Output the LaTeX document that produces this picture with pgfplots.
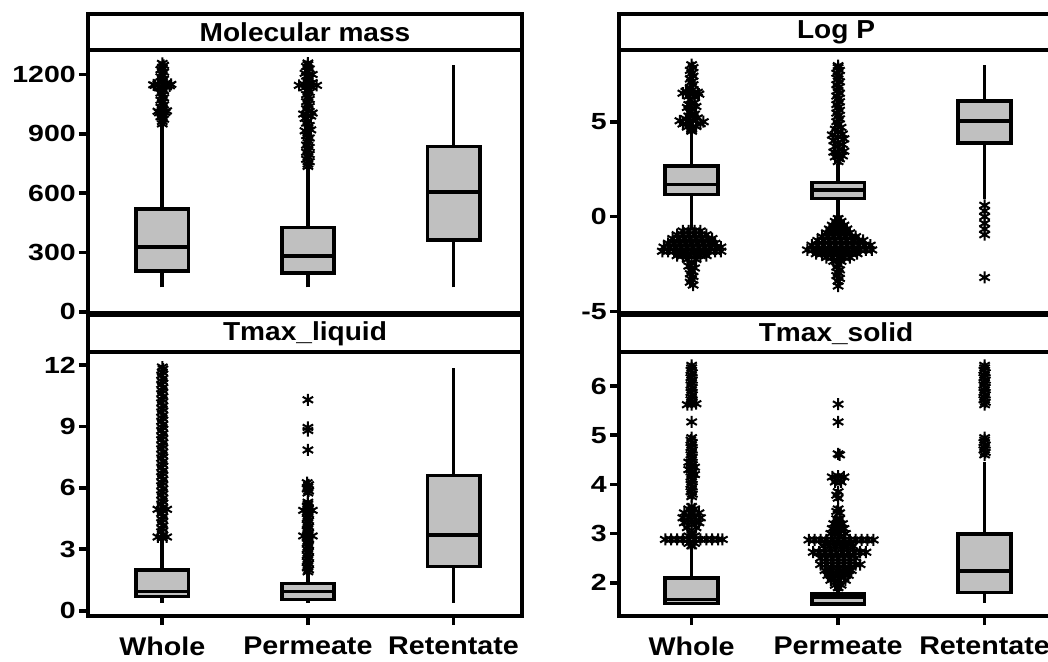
\documentclass[border=0pt]{standalone}
\usepackage{fontspec}
\setmainfont{Liberation Sans}
\newfontfamily\tickfam[FakeStretch=1.22]{Liberation Sans}
\newfontfamily\titlefam[FakeStretch=1.08]{Liberation Sans}
\newfontfamily\labfam[FakeStretch=1.12]{Liberation Sans}
\usepackage{pgfplots}
\pgfplotsset{compat=1.18}
\newlength\px
\setlength\px{0.75pt}
\definecolor{boxgray}{RGB}{192,192,192}
\pgfplotsset{
  panel/.style={
    scale only axis, width=434\px,
    axis line style={line width=3.6\px},
    every tick/.style={line width=3.6\px, black},
    major tick length=9\px,
    tick align=outside,
    ytick pos=left, xtick pos=bottom,
    /pgf/number format/assume math mode=true,
    /pgf/number format/1000 sep={},
    yticklabel style={font=\tickfam\bfseries\fontsize{17.5}{19}\selectfont, inner sep=3\px},
    xticklabel style={font=\labfam\bfseries\fontsize{19.2}{21}\selectfont, yshift=-7\px},
    clip=false,
  },
  ln/.style={black, line width=3.6\px, mark=none},
  bxf/.style={draw=black, fill=boxgray, line width=3.6\px, mark=none},
  outl/.style={only marks, mark=asterisk, mark size=6\px, black,
    mark options={line width=2\px, black}},
}
\begin{document}
\begin{tikzpicture}
\useasboundingbox (0,0) rectangle (1048\px,-661\px);
% ---------------- Molecular mass
\begin{axis}[panel, at={(88\px,-14\px)}, anchor=north west, height=299\px,
  xmin=0.49, xmax=3.47, ymin=-6.6, ymax=1506,
  ytick={0,300,600,900,1200}, xtick=\empty]
\addplot[ln] coordinates {(1,123)(1,950)};
\addplot[ln] coordinates {(2,123)(2,735)};
\addplot[ln] coordinates {(3,123)(3,1250)};
\addplot[bxf] coordinates {(0.82,207)(1.18,207)(1.18,520)(0.82,520)} -- cycle;
\addplot[bxf] coordinates {(1.82,197)(2.18,197)(2.18,425)(1.82,425)} -- cycle;
\addplot[bxf] coordinates {(2.82,363)(3.18,363)(3.18,835)(2.82,835)} -- cycle;
\addplot[ln] coordinates {(0.82,326)(1.18,326)};
\addplot[ln] coordinates {(1.82,283)(2.18,283)};
\addplot[ln] coordinates {(2.82,607)(3.18,607)};
\addplot[outl] coordinates {(1,950)(1,962)(1.01,974)(0.99,986)(1,998)(0.98,1006)(1.02,1008)(0.97,1014)(1.03,1016)(1,1022)(0.99,1034)(1.01,1046)(1,1058)(0.99,1070)(1.01,1082)(1,1094)(0.99,1106)(1.01,1118)(1,1128)(0.98,1136)(0.95,1145)(1.05,1143)(1.02,1140)(0.94,1148)(1.06,1150)(0.97,1152)(1.03,1156)(1,1164)(1.01,1176)(0.99,1188)(1,1200)(1.01,1212)(0.99,1224)(1,1236)(1.01,1246)(1,1256)};
\addplot[outl] coordinates {(2,735)(2,747)(2.01,759)(1.99,771)(2,783)(2.01,795)(1.99,807)(2,819)(2.01,831)(1.99,843)(2,855)(2,867)(2.01,879)(1.99,891)(2,903)(1.98,915)(2.02,920)(2,930)(2.01,942)(1.99,954)(2,966)(1.98,978)(2.02,990)(1.97,1000)(2.03,1005)(2,1014)(1.99,1026)(2.01,1038)(2,1050)(1.99,1062)(2.01,1074)(2,1086)(1.99,1098)(2.01,1110)(2,1122)(1.98,1134)(1.94,1145)(2.06,1145)(2.02,1140)(1.97,1152)(2.03,1158)(2,1168)(2.01,1180)(1.99,1192)(2.03,1200)(1.98,1206)(2,1216)(2.01,1228)(1.99,1240)(2,1250)(2,1258)};
\draw[line width=3.6\px] (rel axis cs:0,0.8796) -- (rel axis cs:1,0.8796);
\node[font=\titlefam\bfseries\fontsize{19.5}{21}\selectfont] at (rel axis cs:0.5,0.94) {Molecular mass};
\end{axis}
% ---------------- Tmax_liquid
\begin{axis}[panel, at={(88\px,-315\px)}, anchor=north west, height=301\px,
  xmin=0.49, xmax=3.47, ymin=-0.259, ymax=14.44,
  ytick={0,3,6,9,12}, xtick={1,2,3}, xticklabels={Whole,Permeate,Retentate}]
\addplot[ln] coordinates {(1,0.39)(1,3.5)};
\addplot[ln] coordinates {(2,0.39)(2,1.85)};
\addplot[ln] coordinates {(3,0.39)(3,11.84)};
\addplot[bxf] coordinates {(0.82,0.70)(1.18,0.70)(1.18,1.99)(0.82,1.99)} -- cycle;
\addplot[bxf] coordinates {(1.82,0.55)(2.18,0.55)(2.18,1.32)(1.82,1.32)} -- cycle;
\addplot[bxf] coordinates {(2.82,2.15)(3.18,2.15)(3.18,6.60)(2.82,6.60)} -- cycle;
\addplot[ln] coordinates {(0.82,0.93)(1.18,0.93)};
\addplot[ln] coordinates {(1.82,0.93)(2.18,0.93)};
\addplot[ln] coordinates {(2.82,3.70)(3.18,3.70)};
\addplot[outl] coordinates {(1,3.55)(1.005,3.7)(0.995,3.85)(1,4.0)(1.005,4.15)(0.995,4.3)(1,4.45)(1.005,4.6)(0.995,4.75)(1,4.9)(1.005,5.05)(0.995,5.2)(1,5.35)(1.005,5.5)(0.995,5.65)(1,5.8)(1.005,5.95)(0.995,6.1)(1,6.25)(1.005,6.4)(0.995,6.55)(1,6.7)(1.005,6.85)(0.995,7.0)(1,7.15)(1.005,7.3)(0.995,7.45)(1,7.6)(1.005,7.75)(0.995,7.9)(1,8.05)(1.005,8.2)(0.995,8.35)(1,8.5)(1.005,8.65)(0.995,8.8)(1,8.95)(1.005,9.1)(0.995,9.25)(1,9.4)(1.005,9.55)(0.995,9.7)(1,9.85)(1.005,10.0)(0.995,10.15)(1,10.3)(1.005,10.45)(0.995,10.6)(1,10.75)(1.005,10.9)(0.995,11.05)(1,11.2)(1.005,11.35)(0.995,11.5)(1,11.65)(1.005,11.8)(1,11.9)(0.97,3.6)(1.03,3.6)(0.97,4.95)(1.03,4.95)};
\addplot[outl] coordinates {(2,10.3)(2,8.95)(2,8.8)(2,7.85)(2,5.75)(2.005,5.85)(1.995,5.95)(2,6.05)(2.005,6.15)(1.995,6.25)(2,1.9)(2.005,2.0)(1.995,2.1)(2,2.2)(2.005,2.3)(1.995,2.4)(2,2.5)(2.005,2.6)(1.995,2.7)(2,2.8)(2.005,2.9)(1.995,3.0)(2,3.1)(2.005,3.2)(1.995,3.3)(2,3.4)(2.005,3.5)(1.995,3.6)(2,3.7)(2.005,3.8)(1.995,3.9)(2,4.0)(2.005,4.1)(1.995,4.2)(2,4.3)(2.005,4.4)(1.995,4.5)(2,4.6)(2.005,4.7)(1.995,4.8)(2,4.9)(2.005,5.0)(1.995,5.1)(2,5.2)(2,5.3)(1.97,4.9)(2.03,4.9)(1.97,3.65)(2.03,3.65)};
\draw[line width=3.6\px] (rel axis cs:0,0.877) -- (rel axis cs:1,0.877);
\node[font=\titlefam\bfseries\fontsize{19.5}{21}\selectfont] at (rel axis cs:0.5,0.9385) {Tmax\_liquid};
\end{axis}
% ---------------- Log P
\begin{axis}[panel, at={(619\px,-14\px)}, anchor=north west, height=299\px,
  xmin=0.504, xmax=3.467, ymin=-5.07, ymax=10.67,
  ytick={-5,0,5}, xtick=\empty]
\addplot[ln] coordinates {(1,-0.6)(1,4.42)};
\addplot[ln] coordinates {(2,-0.1)(2,2.75)};
\addplot[ln] coordinates {(3,0.91)(3,8.01)};
\addplot[bxf] coordinates {(0.82,1.17)(1.18,1.17)(1.18,2.66)(0.82,2.66)} -- cycle;
\addplot[bxf] coordinates {(1.82,0.96)(2.18,0.96)(2.18,1.79)(1.82,1.79)} -- cycle;
\addplot[bxf] coordinates {(2.82,3.89)(3.18,3.89)(3.18,6.08)(2.82,6.08)} -- cycle;
\addplot[ln] coordinates {(0.82,1.70)(1.18,1.70)};
\addplot[ln] coordinates {(1.82,1.40)(2.18,1.40)};
\addplot[ln] coordinates {(2.82,5.03)(3.18,5.03)};
\addplot[outl] coordinates {(1,8.0)(1.01,7.85)(0.99,7.7)(1,7.55)(1.01,7.4)(0.99,7.25)(1,7.1)(1.01,6.95)(0.99,6.8)(1,6.65)(0.96,6.6)(1.04,6.55)(0.94,6.5)(1.05,6.45)(1.01,6.5)(0.98,6.35)(1.02,6.3)(0.99,6.15)(1.02,6.0)(0.98,5.9)(1.03,5.8)(0.97,5.75)(1,5.65)(0.99,5.5)(1.02,5.4)(0.98,5.3)(1.04,5.2)(0.96,5.15)(0.92,5.05)(1.08,5.0)(1.01,5.05)(1.06,4.9)(0.94,4.88)(0.99,4.9)(1.03,4.75)(0.97,4.72)(1,4.6)(1,4.5)};
\addplot[outl] coordinates {(0.94,-0.75)(0.98,-0.75)(1.02,-0.75)(1.06,-0.75)(0.90,-0.95)(0.94,-0.95)(0.98,-0.95)(1.02,-0.95)(1.06,-0.95)(1.10,-0.95)(0.87,-1.15)(0.91,-1.15)(0.95,-1.15)(0.99,-1.15)(1.03,-1.15)(1.07,-1.15)(1.11,-1.15)(1.14,-1.15)(0.84,-1.4)(0.88,-1.4)(0.92,-1.4)(0.96,-1.4)(1.0,-1.4)(1.04,-1.4)(1.08,-1.4)(1.12,-1.4)(1.16,-1.4)(0.81,-1.6)(0.85,-1.6)(0.89,-1.6)(0.93,-1.6)(0.97,-1.6)(1.01,-1.6)(1.05,-1.6)(1.09,-1.6)(1.13,-1.6)(1.17,-1.6)(1.2,-1.6)(0.8,-1.82)(0.84,-1.82)(0.88,-1.82)(0.92,-1.82)(0.96,-1.82)(1.0,-1.82)(1.04,-1.82)(1.08,-1.82)(1.12,-1.82)(1.16,-1.82)(1.2,-1.82)(0.9,-2.05)(0.94,-2.05)(0.98,-2.05)(1.02,-2.05)(1.06,-2.05)(1.1,-2.05)(0.97,-2.25)(1.03,-2.25)(1,-2.45)(0.98,-2.6)(1.02,-2.7)(1,-2.85)(0.99,-3.0)(1.01,-3.15)(1,-3.3)(0.99,-3.45)(1.01,-3.6)};
\addplot[outl] coordinates {(2,2.9)(2.01,3.05)(1.98,3.15)(2.03,3.2)(2,3.3)(1.97,3.4)(2.04,3.45)(2.01,3.55)(1.98,3.7)(2.03,3.8)(2,3.9)(1.97,4.0)(2.04,4.1)(2,4.2)(1.96,4.3)(2.03,4.35)(2,4.45)(1.98,4.6)(2.02,4.7)(2,4.85)(1.99,5.0)(2.01,5.15)(2,5.3)(1.99,5.45)(2.01,5.6)(2,5.75)(1.99,5.9)(2.01,6.05)(2,6.2)(1.99,6.35)(2.01,6.5)(2,6.65)(2,6.8)(1.99,6.95)(2.01,7.1)(2,7.25)(2,7.4)(1.99,7.55)(2.01,7.7)(2,7.85)(2,7.95)};
\addplot[outl] coordinates {(2,-0.1)(1.98,-0.25)(2.02,-0.25)(1.96,-0.45)(2.0,-0.45)(2.04,-0.45)(1.94,-0.65)(1.98,-0.65)(2.02,-0.65)(2.06,-0.65)(1.92,-0.85)(1.96,-0.85)(2.0,-0.85)(2.04,-0.85)(2.08,-0.85)(1.89,-1.05)(1.93,-1.05)(1.97,-1.05)(2.01,-1.05)(2.05,-1.05)(2.09,-1.05)(2.12,-1.05)(1.86,-1.25)(1.9,-1.25)(1.94,-1.25)(1.98,-1.25)(2.02,-1.25)(2.06,-1.25)(2.1,-1.25)(2.14,-1.25)(2.17,-1.25)(1.82,-1.5)(1.86,-1.5)(1.9,-1.5)(1.94,-1.5)(1.98,-1.5)(2.02,-1.5)(2.06,-1.5)(2.1,-1.5)(2.14,-1.5)(2.18,-1.5)(2.22,-1.5)(1.79,-1.75)(1.83,-1.75)(1.87,-1.75)(1.91,-1.75)(1.95,-1.75)(1.99,-1.75)(2.03,-1.75)(2.07,-1.75)(2.11,-1.75)(2.15,-1.75)(2.19,-1.75)(2.23,-1.75)(1.85,-1.95)(1.89,-1.95)(1.93,-1.95)(1.97,-1.95)(2.01,-1.95)(2.05,-1.95)(2.09,-1.95)(2.13,-1.95)(1.92,-2.15)(1.96,-2.15)(2.0,-2.15)(2.04,-2.15)(2.08,-2.15)(1.97,-2.35)(2.02,-2.35)(2,-2.5)(1.99,-2.65)(2.01,-2.8)(2,-2.95)(1.99,-3.1)(2.01,-3.25)(2,-3.4)(2,-3.65)};
\addplot[outl] coordinates {(3,0.6)(3,0.3)(3,0.0)(3,-0.35)(3,-0.65)(3,-0.95)(3,-3.2)};
\draw[line width=3.6\px] (rel axis cs:0,0.8796) -- (rel axis cs:1,0.8796);
\node[font=\titlefam\bfseries\fontsize{19.5}{21}\selectfont] at (rel axis cs:0.5,0.94) {Log P};
\end{axis}
% ---------------- Tmax_solid
\begin{axis}[panel, at={(619\px,-315\px)}, anchor=north west, height=301\px,
  xmin=0.504, xmax=3.467, ymin=1.323, ymax=7.444,
  ytick={2,3,4,5,6}, xtick={1,2,3}, xticklabels={Whole,Permeate,Retentate}]
\addplot[ln] coordinates {(1,1.58)(1,2.70)};
\addplot[ln] coordinates {(2,1.57)(2,1.88)};
\addplot[ln] coordinates {(3,1.59)(3,4.46)};
\addplot[bxf] coordinates {(0.82,1.58)(1.18,1.58)(1.18,2.09)(0.82,2.09)} -- cycle;
\addplot[bxf] coordinates {(1.82,1.57)(2.18,1.57)(2.18,1.77)(1.82,1.77)} -- cycle;
\addplot[bxf] coordinates {(2.82,1.80)(3.18,1.80)(3.18,2.99)(2.82,2.99)} -- cycle;
\addplot[ln] coordinates {(0.82,1.66)(1.18,1.66)};
\addplot[ln] coordinates {(1.82,1.70)(2.18,1.70)};
\addplot[ln] coordinates {(2.82,2.24)(3.18,2.24)};
\addplot[outl] coordinates {(1,5.62)(1.005,5.67)(0.995,5.72)(1,5.77)(1.005,5.82)(0.995,5.87)(1,5.92)(1.005,5.97)(0.995,6.02)(1,6.07)(1.005,6.12)(0.995,6.17)(1,6.22)(1.005,6.27)(0.995,6.32)(1,6.37)(1,6.42)(0.97,5.62)(1.03,5.64)(1,5.27)(1,3.75)(1.005,3.8)(0.995,3.85)(1,3.9)(1.005,3.95)(0.995,4.0)(1,4.05)(1.005,4.1)(0.995,4.15)(1,4.2)(1.005,4.25)(0.995,4.3)(1,4.35)(1.005,4.4)(0.995,4.45)(1,4.5)(1.005,4.55)(0.995,4.6)(1,4.65)(1.005,4.7)(0.995,4.75)(1,4.8)(1.005,4.85)(0.995,4.9)(1,4.95)(0.98,4.3)(1.02,4.35)(0.98,4.45)(1.02,4.2)(1,3.55)(0.98,3.5)(1.02,3.5)(0.95,3.42)(1.0,3.42)(1.05,3.42)(0.94,3.32)(0.98,3.32)(1.02,3.32)(1.06,3.32)(0.95,3.22)(1.0,3.22)(1.05,3.22)(0.97,3.12)(1.03,3.12)(1,3.02)(0.98,2.95)(1.02,2.95)(0.82,2.88)(0.86,2.88)(0.9,2.88)(0.94,2.88)(0.98,2.88)(1.02,2.88)(1.06,2.88)(1.1,2.88)(1.14,2.88)(1.18,2.88)(1.21,2.88)(0.98,2.8)(1.02,2.8)(1,2.75)};
\addplot[outl] coordinates {(2,5.63)(2,5.27)(2,4.62)(2.01,4.6)(1.96,4.15)(2,4.17)(2.04,4.15)(1.98,4.05)(2.02,4.05)(2,3.85)(1.99,3.78)(2,3.72)(2,3.5)(1.99,3.45)(2.01,3.42)(1.99,3.3)(2.01,3.3)(1.97,3.2)(2.0,3.2)(2.03,3.2)(1.96,3.1)(1.99,3.1)(2.02,3.1)(2.04,3.1)(1.95,3.0)(1.98,3.0)(2.01,3.0)(2.05,3.0)(1.8,2.87)(1.84,2.87)(1.88,2.87)(1.92,2.87)(1.96,2.87)(2.0,2.87)(2.04,2.87)(2.08,2.87)(2.12,2.87)(2.16,2.87)(2.2,2.87)(2.24,2.87)(1.9,2.75)(1.94,2.75)(1.98,2.75)(2.02,2.75)(2.06,2.75)(2.1,2.75)(1.83,2.62)(1.87,2.62)(1.91,2.62)(1.95,2.62)(1.99,2.62)(2.03,2.62)(2.07,2.62)(2.11,2.62)(2.15,2.62)(2.19,2.62)(1.88,2.5)(1.92,2.5)(1.96,2.5)(2.0,2.5)(2.04,2.5)(2.08,2.5)(2.12,2.5)(1.88,2.37)(1.92,2.37)(1.96,2.37)(2.0,2.37)(2.04,2.37)(2.08,2.37)(2.12,2.37)(2.15,2.37)(1.91,2.25)(1.95,2.25)(1.99,2.25)(2.03,2.25)(2.07,2.25)(2.09,2.25)(1.93,2.15)(1.97,2.15)(2.01,2.15)(2.05,2.15)(2.07,2.15)(1.95,2.05)(2.0,2.05)(2.05,2.05)(1.98,1.95)(2.02,1.95)(2,1.9)};
\addplot[outl] coordinates {(3,5.62)(3.005,5.67)(2.995,5.72)(3,5.77)(3.005,5.82)(2.995,5.87)(3,5.92)(3.005,5.97)(2.995,6.02)(3,6.07)(3.005,6.12)(2.995,6.17)(3,6.22)(3.005,6.27)(2.995,6.32)(3,6.37)(3,6.42)(3,4.6)(3.005,4.65)(2.995,4.7)(3,4.75)(3.005,4.8)(2.995,4.85)(3,4.9)(3,4.95)};
\draw[line width=3.6\px] (rel axis cs:0,0.877) -- (rel axis cs:1,0.877);
\node[font=\titlefam\bfseries\fontsize{19.5}{21}\selectfont] at (rel axis cs:0.5,0.9385) {Tmax\_solid};
\end{axis}
\end{tikzpicture}
\end{document}
